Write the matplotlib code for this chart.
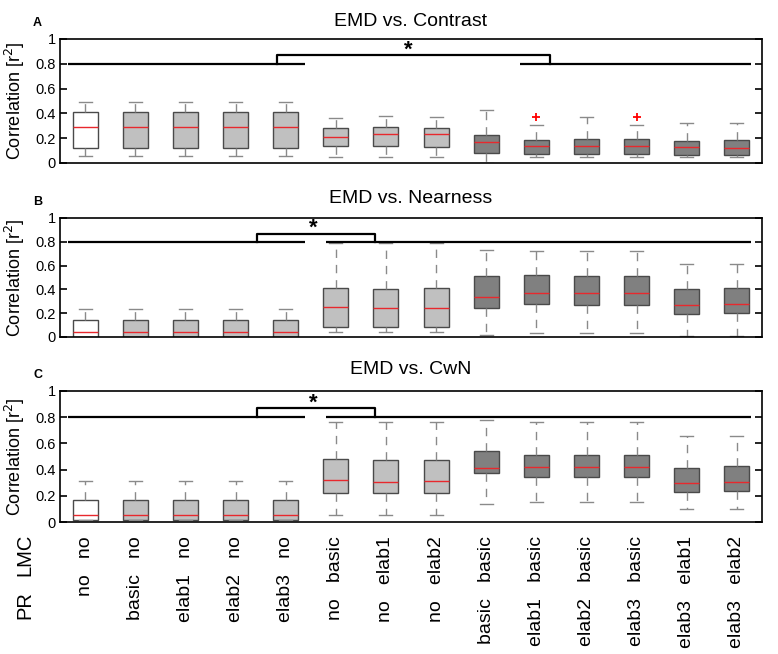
import numpy as np
import matplotlib.pyplot as plt

plt.rcParams['font.family'] = ['Liberation Sans', 'DejaVu Sans']

# model variants (PR, LMC)
pr_labels = ["no", "basic", "elab1", "elab2", "elab3", "no", "no", "no",
             "basic", "elab1", "elab2", "elab3", "elab3", "elab3"]
lmc_labels = ["no", "no", "no", "no", "no", "basic", "elab1", "elab2",
              "basic", "basic", "basic", "basic", "elab1", "elab2"]

# box statistics: low whisker, q1, median, q3, high whisker
contrast_lo = [0.06, 0.06, 0.06, 0.06, 0.06, 0.05, 0.05, 0.05, 0.0, 0.05, 0.05, 0.05, 0.05, 0.05]
contrast_q1 = [0.12, 0.12, 0.12, 0.12, 0.12, 0.14, 0.14, 0.13, 0.083, 0.073, 0.073, 0.075, 0.067, 0.065]
contrast_med = [0.29, 0.29, 0.29, 0.29, 0.29, 0.21, 0.23, 0.23, 0.17, 0.137, 0.14, 0.14, 0.13, 0.12]
contrast_q3 = [0.41, 0.41, 0.41, 0.41, 0.41, 0.28, 0.29, 0.285, 0.225, 0.185, 0.19, 0.19, 0.177, 0.183]
contrast_hi = [0.49, 0.49, 0.49, 0.49, 0.49, 0.36, 0.38, 0.37, 0.43, 0.31, 0.37, 0.31, 0.325, 0.325]
contrast_out = [[], [], [], [], [], [], [], [], [], [0.37], [], [0.37], [], []]

near_lo = [0.0, 0.0, 0.0, 0.0, 0.0, 0.04, 0.04, 0.04, 0.02, 0.035, 0.035, 0.035, 0.005, 0.005]
near_q1 = [0.0, 0.0, 0.0, 0.0, 0.0, 0.088, 0.083, 0.083, 0.245, 0.275, 0.27, 0.27, 0.19, 0.2]
near_med = [0.045, 0.045, 0.045, 0.045, 0.045, 0.255, 0.24, 0.24, 0.335, 0.37, 0.37, 0.37, 0.27, 0.28]
near_q3 = [0.14, 0.14, 0.14, 0.14, 0.14, 0.41, 0.405, 0.41, 0.51, 0.52, 0.51, 0.51, 0.405, 0.41]
near_hi = [0.235, 0.235, 0.235, 0.235, 0.235, 0.79, 0.79, 0.79, 0.73, 0.72, 0.72, 0.72, 0.61, 0.61]
near_out = [[] for _ in range(14)]

cwn_lo = [0.015, 0.015, 0.015, 0.015, 0.015, 0.057, 0.057, 0.057, 0.14, 0.153, 0.153, 0.153, 0.097, 0.1]
cwn_q1 = [0.015, 0.015, 0.015, 0.015, 0.015, 0.22, 0.22, 0.22, 0.375, 0.345, 0.345, 0.345, 0.23, 0.237]
cwn_med = [0.05, 0.05, 0.05, 0.05, 0.05, 0.32, 0.306, 0.31, 0.41, 0.42, 0.42, 0.42, 0.30, 0.304]
cwn_q3 = [0.166, 0.166, 0.166, 0.166, 0.166, 0.48, 0.475, 0.475, 0.54, 0.515, 0.515, 0.515, 0.416, 0.424]
cwn_hi = [0.31, 0.31, 0.31, 0.31, 0.31, 0.76, 0.76, 0.76, 0.78, 0.76, 0.76, 0.76, 0.66, 0.66]
cwn_out = [[] for _ in range(14)]

titles = ["EMD vs. Contrast", "EMD vs. Nearness", "EMD vs. CwN"]
letters = ["A", "B", "C"]

# significance brackets: (left line end, bracket left, bracket right, right line start, star x)
sig_a = (5.38, 4.82, 10.28, 9.68, 7.45)
sig_bc = (5.38, 4.42, 6.79, 5.80, 5.56)

panels = [
    (contrast_lo, contrast_q1, contrast_med, contrast_q3, contrast_hi, contrast_out, sig_a),
    (near_lo, near_q1, near_med, near_q3, near_hi, near_out, sig_bc),
    (cwn_lo, cwn_q1, cwn_med, cwn_q3, cwn_hi, cwn_out, sig_bc),
]

W, H = 778, 654
fig = plt.figure(figsize=(W / 100, H / 100), dpi=100)

# axes boxes in pixels: (top, bottom)
rows_px = [(39, 163), (218, 337), (391, 522)]
left_px, right_px = 60, 762
title_pads = [9, 11, 12]

face = ["white"] + ["#c0c0c0"] * 7 + ["#808080"] * 6
pos = np.arange(1, 15)

for k, (lo, q1, med, q3, hi, out, sig) in enumerate(panels):
    top, bot = rows_px[k]
    ax = fig.add_axes([left_px / W, 1 - bot / H, (right_px - left_px) / W, (bot - top) / H])
    stats = []
    for i in range(14):
        stats.append(dict(whislo=lo[i], q1=q1[i], med=med[i], q3=q3[i], whishi=hi[i], fliers=out[i]))
    bp = ax.bxp(stats, positions=pos, widths=0.5, patch_artist=True, showfliers=True,
                boxprops=dict(edgecolor="#4a4a4a", linewidth=1.0),
                whiskerprops=dict(color="#8a8a8a", linewidth=1.0, linestyle=(0, (6, 5))),
                capprops=dict(color="#8a8a8a", linewidth=1.0),
                medianprops=dict(color="#e8282d", linewidth=1.0),
                flierprops=dict(marker="+", markeredgecolor="red", markersize=6, markeredgewidth=1.3))
    for patch, c in zip(bp["boxes"], face):
        patch.set_facecolor(c)
    for cap in bp["caps"]:
        x0, x1 = cap.get_xdata()
        xc = (x0 + x1) / 2
        cap.set_xdata([xc - 0.13, xc + 0.13])

    left_end, bl, br, right_start, star_x = sig
    ax.plot([0.66, left_end], [0.8, 0.8], color="black", lw=1.6, solid_capstyle="butt")
    ax.plot([right_start, 14.28], [0.8, 0.8], color="black", lw=1.6, solid_capstyle="butt")
    ax.plot([bl, bl, br, br], [0.8, 0.868, 0.868, 0.8], color="black", lw=1.6)
    ax.text(star_x, 0.865, "*", ha="center", va="baseline", fontsize=16, fontweight="bold")

    ax.set_xlim(0.5, 14.5)
    ax.set_ylim(0, 1)
    ax.set_yticks([0, 0.2, 0.4, 0.6, 0.8, 1])
    ax.set_yticklabels(["0", "0.2", "0.4", "0.6", "0.8", "1"])
    ax.tick_params(axis="y", direction="in", length=5, width=1.2, right=True, labelsize=10.5, pad=3)
    ax.tick_params(axis="x", length=0)
    for s in ax.spines.values():
        s.set_linewidth(1.2)
    ax.set_ylabel("Correlation [r$^2$]", fontsize=13)
    ax.yaxis.set_label_coords(-0.047, 0.5)
    ax.set_title(titles[k], fontsize=14, pad=title_pads[k])
    fig.text(33 / W, 1 - (top - 13) / H, letters[k], fontsize=9, fontweight="bold",
             ha="left", va="baseline")

    ax.set_xticks(pos)
    if k < 2:
        ax.set_xticklabels([])
    else:
        ax.set_xticklabels([p + "   " + l for p, l in zip(pr_labels, lmc_labels)],
                           rotation=90, ha="center", va="top", fontsize=14)
        ax.tick_params(axis="x", pad=10)

fig.text(25 / W, 1 - 555 / H, "LMC", rotation=90, ha="center", va="center", fontsize=14.5)
fig.text(25 / W, 1 - 605 / H, "PR", rotation=90, ha="center", va="center", fontsize=14.5)

fig.savefig("out.png", dpi=100)
